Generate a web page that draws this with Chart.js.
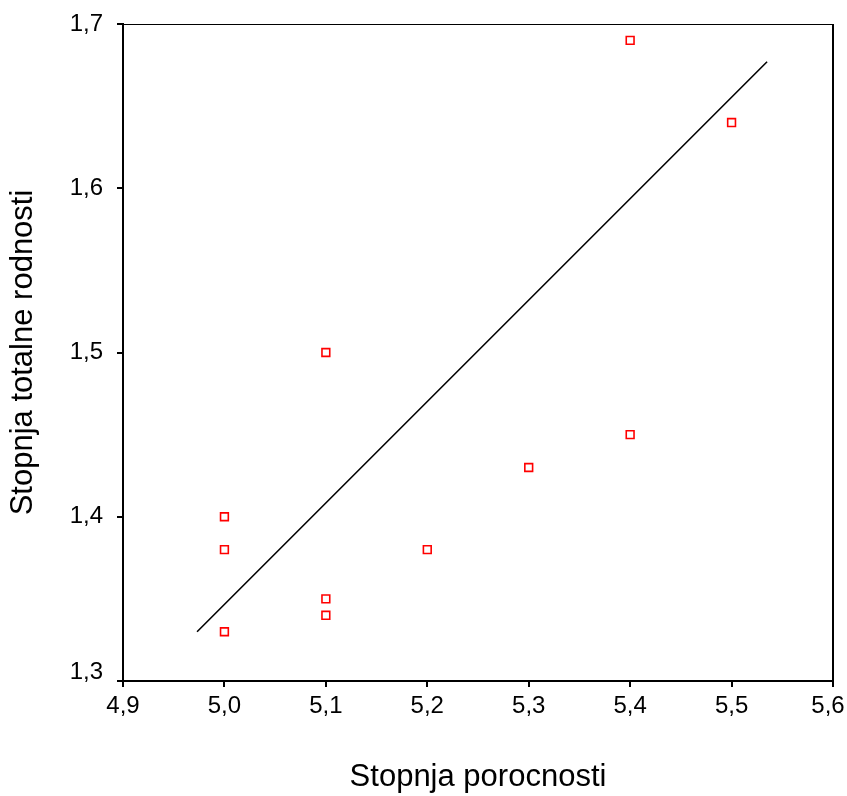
<!DOCTYPE html>
<html>
<head>
<meta charset="utf-8">
<script src="https://cdn.jsdelivr.net/npm/chart.js@4"></script>
<style>
  html, body { margin:0; padding:0; background:#fff; }
  #wrap { width:847px; height:796px; }
</style>
</head>
<body>
<div id="wrap"><canvas id="chart" width="847" height="796"></canvas></div>
<script>
// porosity vs total fertility
const porocnost = [5.0, 5.0, 5.0, 5.1, 5.1, 5.1, 5.2, 5.3, 5.4, 5.4, 5.5];
const rodnost   = [1.40, 1.38, 1.33, 1.50, 1.35, 1.34, 1.38, 1.43, 1.69, 1.45, 1.64];

// fitted line, as drawn
const fitX = [4.973, 5.535];
const fitY = [1.330, 1.677];

const xTicks = [4.9, 5.0, 5.1, 5.2, 5.3, 5.4, 5.5, 5.6];
const yTicks = [1.3, 1.4, 1.5, 1.6, 1.7];

const fmt = v => v.toFixed(1).replace(".", ",");

const frame = {
    id: "frame",
    beforeDraw(chart) {
        // nudge the corner labels inward like the original
        const xl = chart.scales.x.getLabelItems();
        const yl = chart.scales.y.getLabelItems();
        if (xl.length) xl[xl.length - 1].options.translation[0] -= 5;
        if (yl.length) yl[0].options.translation[1] -= 9;
    },
    afterDraw(chart) {
        const a = chart.chartArea;
        const c = chart.ctx;
        c.save();
        c.strokeStyle = "#000";
        c.lineWidth = 1;
        c.beginPath();
        c.moveTo(a.left, a.top + 0.5);
        c.lineTo(a.right, a.top + 0.5);
        c.stroke();
        c.lineWidth = 2;
        c.beginPath();
        c.moveTo(a.right, a.top);
        c.lineTo(a.right, a.bottom);
        c.stroke();
        c.restore();
    }
};

const font = "'Liberation Sans', Arial, sans-serif";

new Chart(document.getElementById("chart"), {
    type: "scatter",
    data: {
        datasets: [
        {
            data: porocnost.map((x, i) => ({ x: x, y: rodnost[i] })),
            pointStyle: "rect",
            pointRadius: 5.5,
            pointHoverRadius: 5.5,
            borderColor: "#ff0000",
            backgroundColor: "rgba(0,0,0,0)",
            pointBorderWidth: 1.6
        },
        {
            type: "line",
            data: fitX.map((x, i) => ({ x: x, y: fitY[i] })),
            borderColor: "#000",
            borderWidth: 1.6,
            pointRadius: 0,
            fill: false
        }]
    },
    options: {
        responsive: false,
        animation: false,
        layout: { padding: { left:0, top:24, right:14, bottom:0 } },
        plugins: {
            legend: { display:false },
            tooltip: { enabled:false }
        },
        scales: {
            x: {
                type: "linear",
                min: 4.9,
                max: 5.6,
                afterBuildTicks: s => { s.ticks = xTicks.map(v => ({ value:v })); },
                afterFit: s => { s.height = 115; s.paddingLeft = 0; s.paddingRight = 0; },
                ticks: {
                    color: "#000",
                    padding: 5,
                    maxRotation: 0,
                    font: { family: font, size: 24 },
                    callback: v => fmt(v)
                },
                grid: { drawOnChartArea:false, drawTicks:true, tickLength:6, color:"#000", lineWidth:2 },
                border: { display:true, color:"#000", width:2 },
                title: {
                    display: true,
                    text: "Stopnja porocnosti",
                    color: "#000",
                    font: { family: font, size: 31 },
                    padding: { top:0, bottom:0 }
                }
            },
            y: {
                type: "linear",
                min: 1.3,
                max: 1.7,
                afterBuildTicks: s => { s.ticks = yTicks.map(v => ({ value:v })); },
                afterFit: s => { s.width = 123; s.paddingTop = 0; s.paddingBottom = 0; },
                ticks: {
                    color: "#000",
                    padding: 14,
                    font: { family: font, size: 24 },
                    callback: v => fmt(v)
                },
                grid: { drawOnChartArea:false, drawTicks:true, tickLength:6, color:"#000", lineWidth:2 },
                border: { display:true, color:"#000", width:2 },
                title: {
                    display: true,
                    text: "Stopnja totalne rodnosti",
                    color: "#000",
                    font: { family: font, size: 31 },
                    padding: { top:5, bottom:0 }
                }
            }
        }
    },
    plugins: [frame]
});
</script>
</body>
</html>
